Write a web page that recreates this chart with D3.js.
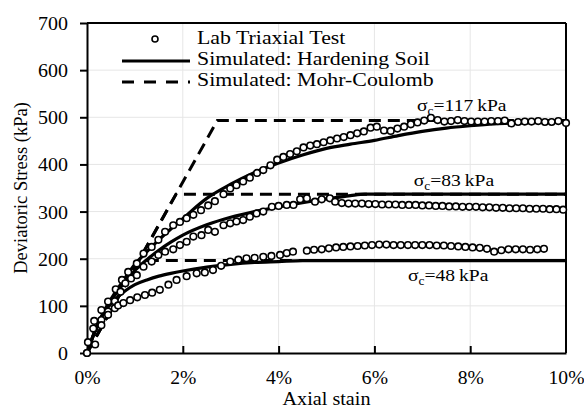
<!DOCTYPE html>
<html>
<head>
<meta charset="utf-8">
<script src="https://cdn.jsdelivr.net/npm/d3@7"></script>
<style>
  body { margin: 0; background: #fff; }
  svg text { font-family: "Liberation Serif", "Times New Roman", serif; fill: #000; }
</style>
</head>
<body>
<svg class="js-render-chart" width="584" height="411" font-family="Liberation Serif, Times New Roman, serif"></svg>
<script>
"use strict";

//data: [axial strain %, deviatoric stress kPa]

const labTest117 = [[0,0],[0.02,23],[0.15,68],[0.3,91],[0.44,109],[0.6,135],[0.73,155],[0.86,172],[1.04,190],[1.18,211],[1.35,225],[1.49,240],[1.63,257],[1.8,271],[1.94,278],[2.08,286],[2.22,293],[2.38,303],[2.53,313],[2.67,322],[2.85,337],[2.99,349],[3.12,356],[3.26,364],[3.4,372],[3.55,382],[3.68,388],[3.83,398],[3.97,410],[4.1,416],[4.24,422],[4.38,428],[4.52,436],[4.66,440],[4.8,443],[4.94,447],[5.08,451],[5.22,455],[5.36,458],[5.5,462],[5.64,466],[5.78,470],[5.92,478],[6.05,480],[6.2,472],[6.34,471],[6.48,476],[6.62,480],[6.76,485],[6.9,489],[7.04,493],[7.18,499],[7.32,494],[7.46,491],[7.6,492],[7.74,494],[7.88,492],[8.02,491],[8.16,491],[8.3,491],[8.44,492],[8.58,492],[8.72,493],[8.86,487],[9.0,490],[9.14,491],[9.28,491],[9.42,492],[9.56,490],[9.7,490],[9.84,492],[10,488]];

const labTest83 = [[0,0],[0.15,52],[0.3,70],[0.44,88],[0.58,110],[0.7,130],[0.8,148],[0.92,158],[1.04,165],[1.18,183],[1.35,194],[1.49,208],[1.63,215],[1.8,220],[1.94,229],[2.08,236],[2.22,247],[2.39,250],[2.53,261],[2.67,257],[2.85,271],[2.99,275],[3.12,279],[3.26,282],[3.4,289],[3.54,296],[3.68,300],[3.86,310],[4.0,312],[4.17,314],[4.31,314],[4.45,326],[4.59,328],[4.76,321],[4.9,326],[5.07,328],[5.18,321],[5.32,318],[5.46,317],[5.6,317],[5.74,317],[5.88,316],[6.02,316],[6.16,315],[6.3,315],[6.44,315],[6.58,314],[6.72,314],[6.86,314],[7.0,313],[7.14,313],[7.28,312],[7.42,312],[7.56,311],[7.7,311],[7.84,310],[7.98,310],[8.12,310],[8.26,309],[8.4,309],[8.54,308],[8.68,308],[8.82,307],[8.96,307],[9.1,307],[9.24,306],[9.38,306],[9.52,306],[9.66,305],[9.8,305],[9.94,304]];

const labTest48 = [[0.17,18],[0.13,52],[0.3,59],[0.44,81],[0.58,95],[0.65,101],[0.76,106],[0.9,112],[1.05,118],[1.21,123],[1.36,128],[1.52,134],[1.7,145],[1.87,155],[2.08,163],[2.29,169],[2.46,171],[2.63,176],[2.8,185],[2.99,194],[3.16,198],[3.33,201],[3.5,202],[3.68,204],[3.85,206],[4.03,208],[4.17,212],[4.3,215],[4.59,217],[4.74,219],[4.9,220],[5.05,222],[5.2,224],[5.35,225],[5.5,226],[5.65,227],[5.8,228],[5.95,229],[6.1,230],[6.25,230],[6.4,229],[6.55,229],[6.7,229],[6.85,229],[7.0,229],[7.15,229],[7.3,228],[7.45,228],[7.6,227],[7.75,226],[7.9,225],[8.05,224],[8.2,223],[8.35,221],[8.5,215],[8.65,218],[8.8,220],[8.95,220],[9.1,220],[9.25,219],[9.4,220],[9.54,221]];

const hardening117 = [[0,0],[0.2,55],[0.4,97],[0.6,130],[0.8,160],[1.0,188],[1.25,215],[1.5,240],[1.75,263],[2.0,285],[2.5,328],[3.0,358],[3.5,383],[4.0,403],[4.5,420],[5.0,434],[5.5,443],[6.0,451],[6.5,461],[7.0,470],[7.5,477],[8.0,482],[8.5,486],[9.0,488],[9.5,489],[10,490]];

const hardening83 = [[0,0],[0.2,55],[0.4,95],[0.6,125],[0.8,152],[1.0,175],[1.25,198],[1.5,218],[1.75,235],[2.0,250],[2.5,272],[3.0,288],[3.5,300],[4.0,310],[4.5,319],[5.0,327],[5.5,334],[5.8,337],[10,337]];

const hardening48 = [[0,0],[0.2,55],[0.4,92],[0.6,115],[0.8,132],[1.0,145],[1.25,155],[1.5,163],[1.75,169],[2.0,174],[2.5,182],[3.0,188],[3.5,192],[4.0,194],[4.5,196],[10,196]];

const mohrCoulomb117 = [[0,0],[2.72,493],[10,493]];
const mohrCoulomb83 = [[0,0],[1.86,337],[10,337]];
const mohrCoulomb48 = [[0,0],[1.08,196],[10,196]];

const xTicks = [0, 2, 4, 6, 8, 10];
const yTicks = [0, 100, 200, 300, 400, 500, 600, 700];

const annotations = [
  { x: 6.89, y: 514, label: "117" },
  { x: 6.82, y: 355, label: "83" },
  { x: 6.7, y: 152, label: "48" }
];

const legendItems = [
  { label: "Lab Triaxial Test", kind: "marker" },
  { label: "Simulated: Hardening Soil", kind: "solid" },
  { label: "Simulated: Mohr-Coulomb", kind: "dashed" }
];

//svg params

const W = 584, H = 411;
const m = { t: 23, r: 18, b: 58, l: 87 };
const w = W - m.l - m.r;
const h = H - m.t - m.b;
const stretch = 1.12; //horizontal text stretch of the original

const svg = d3.select(".js-render-chart");
const chart = svg.append("g").attr("transform", `translate(${m.l}, ${m.t})`);

const x = d3.scaleLinear().domain([0, 10]).range([0, w]);
const y = d3.scaleLinear().domain([0, 700]).range([h, 0]);

const wideText = (sel, px, py, k = stretch) =>
  sel.attr("x", 0).attr("y", 0).attr("transform", `translate(${px}, ${py}) scale(${k}, 1)`);

//grid

chart.append("g")
  .selectAll("line")
  .data(xTicks.slice(1, -1))
  .join("line")
  .attr("x1", d => x(d)).attr("x2", d => x(d))
  .attr("y1", 0).attr("y2", h)
  .attr("stroke", "#e6e6e6").attr("stroke-width", 1);

chart.append("g")
  .selectAll("line")
  .data(yTicks.slice(1, -1))
  .join("line")
  .attr("x1", 0).attr("x2", w)
  .attr("y1", d => y(d)).attr("y2", d => y(d))
  .attr("stroke", "#e6e6e6").attr("stroke-width", 1);

//axes

const xa = d3.axisBottom(x).tickValues(xTicks).tickFormat(d => d + "%").tickSizeInner(-7).tickSizeOuter(0);
const ya = d3.axisLeft(y).tickValues(yTicks).tickSizeInner(7).tickSizeOuter(0);

const gx = chart.append("g").attr("transform", `translate(0, ${h})`).call(xa);
const gy = chart.append("g").call(ya);

[gx, gy].forEach(g => {
  g.attr("font-family", null).attr("font-size", null);
  g.select(".domain").attr("stroke", "#000").attr("stroke-width", 2);
  g.selectAll(".tick line").attr("stroke", "#000").attr("stroke-width", 2);
  g.selectAll(".tick text").style("font-size", "18.5px").attr("dy", null);
});
gx.selectAll(".tick line").filter(d => d === 0 || d === 10).remove();
gx.selectAll(".tick text").call(wideText, 0, 31, 1.06);
gy.selectAll(".tick text").call(wideText, -19, 6.5, 1.08);

//frame top and right

chart.append("line").attr("x1", 0).attr("x2", w).attr("y1", 0).attr("y2", 0).attr("stroke", "#000").attr("stroke-width", 2);
chart.append("line").attr("x1", w).attr("x2", w).attr("y1", 0).attr("y2", h).attr("stroke", "#000").attr("stroke-width", 2);

//axis titles

svg.append("text")
  .attr("text-anchor", "middle")
  .style("font-size", "18px")
  .text("Axial stain")
  .call(wideText, m.l + w / 2, 405);

svg.append("text")
  .attr("transform", `translate(27, ${m.t + h / 2}) rotate(-90)`)
  .attr("text-anchor", "middle")
  .style("font-size", "18.5px")
  .text("Deviatoric Stress (kPa)");

//lines

const line = d3.line().x(d => x(d[0])).y(d => y(d[1])).curve(d3.curveMonotoneX);
const straight = d3.line().x(d => x(d[0])).y(d => y(d[1]));

const plot = chart.append("g");

[mohrCoulomb117, mohrCoulomb83, mohrCoulomb48].forEach(s => {
  plot.append("path").attr("d", straight(s))
    .attr("fill", "none").attr("stroke", "#000").attr("stroke-width", 3)
    .attr("stroke-dasharray", "12,7");
});

[hardening117, hardening83, hardening48].forEach(s => {
  plot.append("path").attr("d", line(s))
    .attr("fill", "none").attr("stroke", "#000").attr("stroke-width", 3.2);
});

[labTest117, labTest83, labTest48].forEach(s => {
  plot.append("g")
    .selectAll("circle")
    .data(s)
    .join("circle")
    .attr("cx", d => x(d[0])).attr("cy", d => y(d[1]))
    .attr("r", 3.3)
    .attr("fill", "#fff").attr("stroke", "#000").attr("stroke-width", 1.6);
});

//annotations

annotations.forEach(a => {
  const t = chart.append("text")
    .style("font-size", "17.5px")
    .call(wideText, x(a.x), y(a.y));
  t.append("tspan").text("σ");
  t.append("tspan").attr("dy", 4).style("font-size", "12px").text("c");
  t.append("tspan").attr("dy", -4).text(`=${a.label}\u2009kPa`);
});

//legend

const legend = chart.append("g").attr("transform", "translate(35, 21)");

legendItems.forEach((d, i) => {
  const g = legend.append("g").attr("transform", `translate(0, ${i * 21})`);
  if (d.kind === "marker") {
    g.append("circle").attr("cx", 33).attr("cy", -5).attr("r", 3)
      .attr("fill", "#fff").attr("stroke", "#000").attr("stroke-width", 1.6);
  } else {
    g.append("line").attr("x1", 0).attr("x2", 68).attr("y1", -4).attr("y2", -4)
      .attr("stroke", "#000").attr("stroke-width", 3.2)
      .attr("stroke-dasharray", d.kind === "dashed" ? "12,10" : null);
  }
  g.append("text").style("font-size", "19.5px").text(d.label).call(wideText, 75, 0);
});
</script>
</body>
</html>
